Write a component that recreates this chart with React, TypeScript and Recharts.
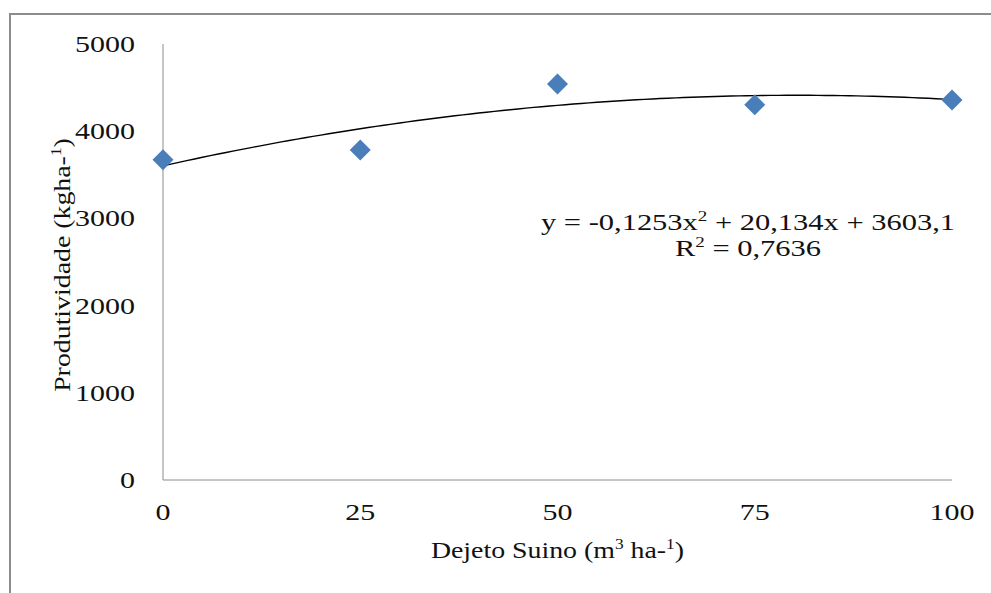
import { ComposedChart, Scatter, Line, XAxis, YAxis, Label } from "recharts";

// dose of pig slurry (m3/ha) and measured yield (kg/ha)
const doses = [0, 25, 50, 75, 100];
const yields = [3674, 3785, 4541, 4304, 4358];

// quadratic trend reported on the chart
const coefA = -0.1253;
const coefB = 20.134;
const coefC = 3603.1;
const rSquared = "0,7636";

const xTicks = [0, 25, 50, 75, 100];
const yTicks = [0, 1000, 2000, 3000, 4000, 5000];

const points = doses.map((d, i) => ({ x: d, y: yields[i] }));
const trend = Array.from({ length: 101 }, (_, x) => ({ x, trend: coefA * x * x + coefB * x + coefC }));

const FONT = "Liberation Serif";
const FS = 24;
const AXIS = "#8c8c8c";
const BLUE = "#4a7ebb";

function Diamond(props: any) {
  const { cx, cy } = props;
  const r = 10.5;
  return <path d={`M${cx},${cy - r}L${cx + r},${cy}L${cx},${cy + r}L${cx - r},${cy}Z`} fill={BLUE} />;
}

// text drawn slightly stretched horizontally
function Wide({ x, y, anchor = "middle", rotate = 0, sx = 1.16, children }: any) {
  return (
    <text
      transform={`translate(${x} ${y}) rotate(${rotate}) scale(${sx} 1)`}
      textAnchor={anchor}
      style={{ fontFamily: FONT, fontSize: FS }}
      fill="#111"
    >
      {children}
    </text>
  );
}

const sup = (s: string) => <tspan dy={-9} fontSize={15}>{s}</tspan>;

function XTick({ x, y, payload }: any) {
  return <Wide x={x} y={y + 20} sx={1.25}>{payload.value}</Wide>;
}

function YTick({ x, y, payload }: any) {
  return <Wide x={x} y={y + 8} anchor="end" sx={1.25}>{payload.value}</Wide>;
}

function XTitle({ viewBox }: any) {
  const cx = viewBox.x + viewBox.width / 2;
  return (
    <Wide x={cx} y={558}>
      Dejeto Suino (m{sup("3")}<tspan dy={9}> ha-</tspan>{sup("1")}<tspan dy={9}>)</tspan>
    </Wide>
  );
}

function YTitle({ viewBox }: any) {
  const cy = viewBox.y + viewBox.height / 2 + 3;
  return (
    <Wide x={70} y={cy} rotate={-90}>
      Produtividade (kgha-{sup("1")}<tspan dy={9}>)</tspan>
    </Wide>
  );
}

export default function App() {
  return (
    <div style={{ position: "absolute", left: 0, top: 0, width: 991, height: 593, background: "#fff", overflow: "hidden" }}>
      <div style={{ position: "absolute", left: 9, top: 13, width: 1000, height: 600, border: `2px solid ${AXIS}`, boxSizing: "border-box" }} />
      <ComposedChart width={991} height={593} margin={{ top: 44, right: 39, bottom: 83, left: 103 }} style={{ position: "absolute", left: 0, top: 0 }}>
        <XAxis
          dataKey="x"
          type="number"
          domain={[0, 100]}
          ticks={xTicks}
          allowDuplicatedCategory={false}
          stroke={AXIS}
          tickLine={false}
          height={30}
          tick={<XTick />}
          tickMargin={14}
        >
          <Label content={<XTitle />} />
        </XAxis>
        <YAxis
          type="number"
          domain={[0, 5000]}
          ticks={yTicks}
          stroke={AXIS}
          tickLine={false}
          width={60}
          tick={<YTick />}
          tickMargin={22}
        >
          <Label content={<YTitle />} />
        </YAxis>
        <Line data={trend} dataKey="trend" type="linear" dot={false} stroke="#000" strokeWidth={1.4} isAnimationActive={false} />
        <Scatter data={points} dataKey="y" shape={<Diamond />} isAnimationActive={false} />
        <Wide x={748} y={230} sx={1.27}>
          y = -0,1253x{sup("2")}<tspan dy={9}> + 20,134x + 3603,1</tspan>
        </Wide>
        <Wide x={748} y={256} sx={1.27}>
          R{sup("2")}<tspan dy={9}> = {rSquared}</tspan>
        </Wide>
      </ComposedChart>
    </div>
  );
}
